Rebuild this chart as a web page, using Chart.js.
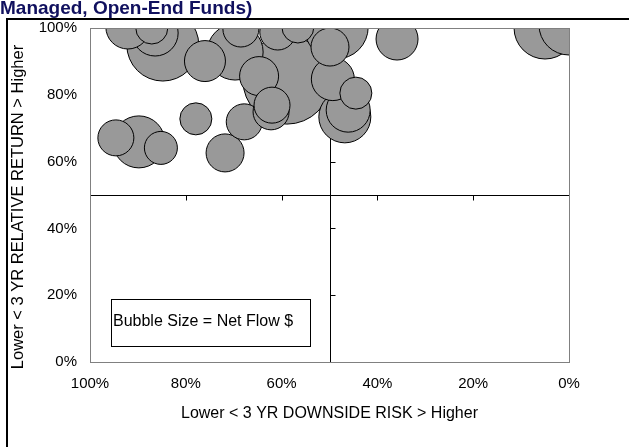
<!DOCTYPE html>
<html>
<head>
<meta charset="utf-8">
<script src="https://cdn.jsdelivr.net/npm/chart.js@4/dist/chart.umd.min.js"></script>
<style>
  html, body { margin: 0; padding: 0; background: #ffffff; overflow: hidden; }
  #wrap { width: 629px; height: 447px; position: relative; }
</style>
</head>
<body>
<div id="wrap"><canvas id="chart" width="629" height="447"></canvas></div>
<script>
// Fund positions: downside risk percentile (x), relative return percentile (y)
// and bubble radius scaled from net flow. Larger flows listed first so that
// smaller bubbles sit on top.
const riskPct   = [58.9, 84.8, 48.6,  5.0,   0.0, 69.7, 89.8, 46.8, 86.4, 92.1, 46.1, 49.3, 35.9, 76.0, 64.7, 49.9, 71.8, 60.8, 68.5, 94.6, 67.8, 62.2, 62.0, 85.2, 77.9, 56.6, 87.1, 44.5];
const returnPct = [84.4, 94.9, 100.3, 100.0, 100.9, 92.8, 65.9, 73.4, 98.5, 100.3, 75.4, 84.7, 96.7, 90.1, 85.6, 94.3, 62.6, 98.8, 99.7, 67.1, 71.9, 74.9, 76.9, 64.1, 72.8, 100.3, 100.0, 80.5];
const flowRadius = [44, 36, 32, 31, 30, 28, 26, 26, 23, 22, 22, 21.5, 21, 20.5, 19.5, 19, 19, 18, 18, 18, 18, 18, 18, 16.5, 16, 16, 16, 16];

const axisTicks = [0, 20, 40, 60, 80, 100];
const quadrantSplit = 50;

const chartTitle = 'Managed, Open-End Funds)';
const xAxisTitle = 'Lower < 3 YR DOWNSIDE RISK > Higher';
const yAxisTitle = 'Lower < 3 YR RELATIVE RETURN > Higher';
const sizeNote = 'Bubble Size = Net Flow $';

const FONT = "'Liberation Sans', Arial, Helvetica, sans-serif";

const points = riskPct.map((x, i) => ({ x: x, y: returnPct[i], r: flowRadius[i] }));

// Outer frame, heading, vertical axis title and background
const framePlugin = {
  id: 'framePlugin',
  beforeDraw(chart) {
    const ctx = chart.ctx;
    ctx.save();
    ctx.fillStyle = '#ffffff';
    ctx.fillRect(0, 0, chart.width, chart.height);
    ctx.strokeStyle = '#000000';
    ctx.lineWidth = 2;
    ctx.strokeRect(7, 19, chart.width + 20, chart.height + 20);
    ctx.fillStyle = '#10105e';
    ctx.font = 'bold 19px ' + FONT;
    ctx.textAlign = 'left';
    ctx.textBaseline = 'alphabetic';
    ctx.fillText(chartTitle, 0, 14);

    ctx.fillStyle = '#000000';
    ctx.font = '16.5px ' + FONT;
    ctx.textAlign = 'center';
    ctx.textBaseline = 'middle';
    ctx.translate(18, 207);
    ctx.rotate(-Math.PI / 2);
    ctx.fillText(yAxisTitle, 0, 0);
    ctx.restore();
  }
};

// Crossing lines at the 50% marks, with their tick marks
const quadrantPlugin = {
  id: 'quadrantPlugin',
  beforeDatasetsDraw(chart) {
    const { ctx, chartArea: a, scales: { x, y } } = chart;
    const cx = Math.round(x.getPixelForValue(quadrantSplit)) + 0.5;
    const cy = Math.round(y.getPixelForValue(quadrantSplit)) + 0.5;
    ctx.save();
    ctx.strokeStyle = '#000000';
    ctx.lineWidth = 1;
    ctx.beginPath();
    ctx.moveTo(cx, a.top); ctx.lineTo(cx, a.bottom);
    ctx.moveTo(a.left, cy); ctx.lineTo(a.right, cy);
    axisTicks.forEach(v => {
      const py = Math.round(y.getPixelForValue(v)) + 0.5;
      ctx.moveTo(cx, py); ctx.lineTo(cx + 5, py);
      const px = Math.round(x.getPixelForValue(v)) + 0.5;
      ctx.moveTo(px, cy); ctx.lineTo(px, cy + 5);
    });
    ctx.stroke();
    ctx.restore();
  },
  afterDatasetsDraw(chart) {
    const { ctx, chartArea: a } = chart;
    ctx.save();
    // plot area border
    ctx.strokeStyle = '#808080';
    ctx.lineWidth = 1;
    ctx.strokeRect(Math.round(a.left) + 0.5, Math.round(a.top) + 0.5,
                   Math.round(a.right - a.left), Math.round(a.bottom - a.top));
    // bubble size note
    ctx.strokeStyle = '#000000';
    ctx.strokeRect(111.5, 299.5, 199, 47);
    ctx.fillStyle = '#000000';
    ctx.font = '16px ' + FONT;
    ctx.textAlign = 'left';
    ctx.textBaseline = 'middle';
    ctx.fillText(sizeNote, 113, 322);
    ctx.restore();
  }
};

new Chart(document.getElementById('chart'), {
  type: 'bubble',
  data: {
    datasets: [{
      data: points,
      backgroundColor: '#999999',
      borderColor: '#000000',
      borderWidth: 1,
      hoverBorderWidth: 1,
      clip: 0
    }]
  },
  options: {
    responsive: false,
    animation: false,
    devicePixelRatio: 1,
    events: [],
    layout: { autoPadding: false, padding: { left: 0, top: 28, right: 60, bottom: 0 } },
    plugins: {
      legend: { display: false },
      tooltip: { enabled: false },
      title: { display: false }
    },
    scales: {
      x: {
        type: 'linear',
        min: 0,
        max: 100,
        reverse: true,
        afterFit(scale) { scale.height = 85; },
        grid: { display: false, drawTicks: false },
        border: { display: false },
        afterBuildTicks(scale) { scale.ticks = axisTicks.map(v => ({ value: v })); },
        ticks: {
          padding: 13,
          color: '#000000',
          font: { family: FONT, size: 15 },
          maxRotation: 0,
          callback: v => v + '%'
        },
        title: {
          display: true,
          text: xAxisTitle,
          color: '#000000',
          font: { family: FONT, size: 16 },
          padding: { top: 0, bottom: 24 }
        }
      },
      y: {
        type: 'linear',
        min: 0,
        max: 100,
        afterFit(scale) { scale.width = 90; },
        grid: { display: false, drawTicks: false },
        border: { display: false },
        afterBuildTicks(scale) { scale.ticks = axisTicks.map(v => ({ value: v })); },
        ticks: {
          padding: 13,
          color: '#000000',
          font: { family: FONT, size: 15 },
          callback: v => v + '%'
        },
        title: { display: false }
      }
    }
  },
  plugins: [framePlugin, quadrantPlugin]
});
</script>
</body>
</html>
